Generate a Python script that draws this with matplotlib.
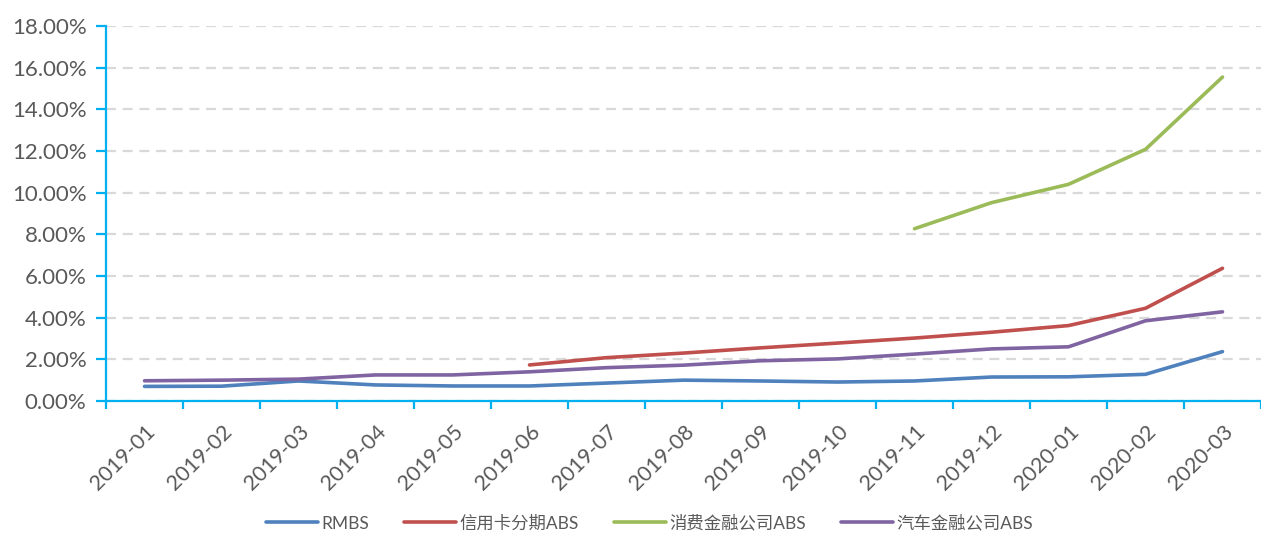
import numpy as np
import matplotlib.pyplot as plt
from matplotlib.ticker import FixedLocator, FuncFormatter

plt.rcParams['font.family'] = ['Lato', 'Noto Sans CJK SC', 'DejaVu Sans']

months = ["2019-01", "2019-02", "2019-03", "2019-04", "2019-05", "2019-06", "2019-07",
          "2019-08", "2019-09", "2019-10", "2019-11", "2019-12", "2020-01", "2020-02", "2020-03"]

# 违约率 (%), nan = 无数据
rmbs = [0.70, 0.71, 0.96, 0.77, 0.72, 0.72, 0.86, 1.00, 0.96, 0.91, 0.96, 1.15, 1.16, 1.28, 2.37]
credit_card = [np.nan] * 5 + [1.73, 2.08, 2.30, 2.55, 2.78, 3.02, 3.30, 3.62, 4.45, 6.37]
consumer_fin = [np.nan] * 10 + [8.27, 9.52, 10.40, 12.08, 15.55]
auto_fin = [0.97, 1.00, 1.05, 1.25, 1.25, 1.40, 1.60, 1.72, 1.93, 2.02, 2.25, 2.50, 2.60, 3.85, 4.28]

names = ["RMBS", "信用卡分期ABS", "消费金融公司ABS", "汽车金融公司ABS"]
colors = ["#4F81BD", "#C0504D", "#9BBB59", "#8064A2"]
series = [rmbs, credit_card, consumer_fin, auto_fin]

axis_blue = "#00B0F0"
text_gray = "#595959"

fig = plt.figure(figsize=(12.61, 5.35), dpi=100)
ax = fig.add_axes([0.0841, 0.2505, 0.9159, 0.7009])

x = np.arange(len(months)) + 0.5
for vals, name, c in zip(series, names, colors):
    ax.plot(x, vals, color=c, lw=2.6, label=name, solid_capstyle='round')

ax.set_xlim(0, len(months))
ax.set_ylim(0, 18)

ax.yaxis.set_major_locator(FixedLocator(np.arange(0, 19, 2)))
ax.yaxis.set_major_formatter(FuncFormatter(lambda v, p: f"{v:.2f}%"))
ax.grid(axis='y', color='#D9D9D9', lw=1.6, ls=(0, (4.5, 3)))
ax.set_axisbelow(True)

# category boundaries carry the tick marks, labels sit at the centres
ax.xaxis.set_major_locator(FixedLocator(np.arange(0, len(months) + 1)))
ax.xaxis.set_major_formatter(FuncFormatter(lambda v, p: ""))
ax.xaxis.set_minor_locator(FixedLocator(x))
ax.set_xticklabels(months, minor=True, rotation=45, ha='right',
                   rotation_mode='anchor', fontsize=15.5, color=text_gray)
ax.tick_params(axis='x', which='minor', length=0, pad=15)
ax.tick_params(axis='x', which='major', length=6, width=1.6, color=axis_blue, direction='out')
ax.tick_params(axis='y', length=7, width=1.6, color=axis_blue, direction='out',
               labelsize=16, labelcolor=text_gray, pad=7)

for side in ['top', 'right']:
    ax.spines[side].set_visible(False)
for side in ['left', 'bottom']:
    ax.spines[side].set_color(axis_blue)
    ax.spines[side].set_linewidth(1.6)

leg = fig.legend(loc='center', bbox_to_anchor=(0.515, 0.022), ncol=4, frameon=False,
                 fontsize=12.5, handlelength=3.0, columnspacing=2.0, handletextpad=0.2,
                 borderpad=0.1)
for t in leg.get_texts():
    t.set_color(text_gray)

fig.savefig("out.png", dpi=100)
